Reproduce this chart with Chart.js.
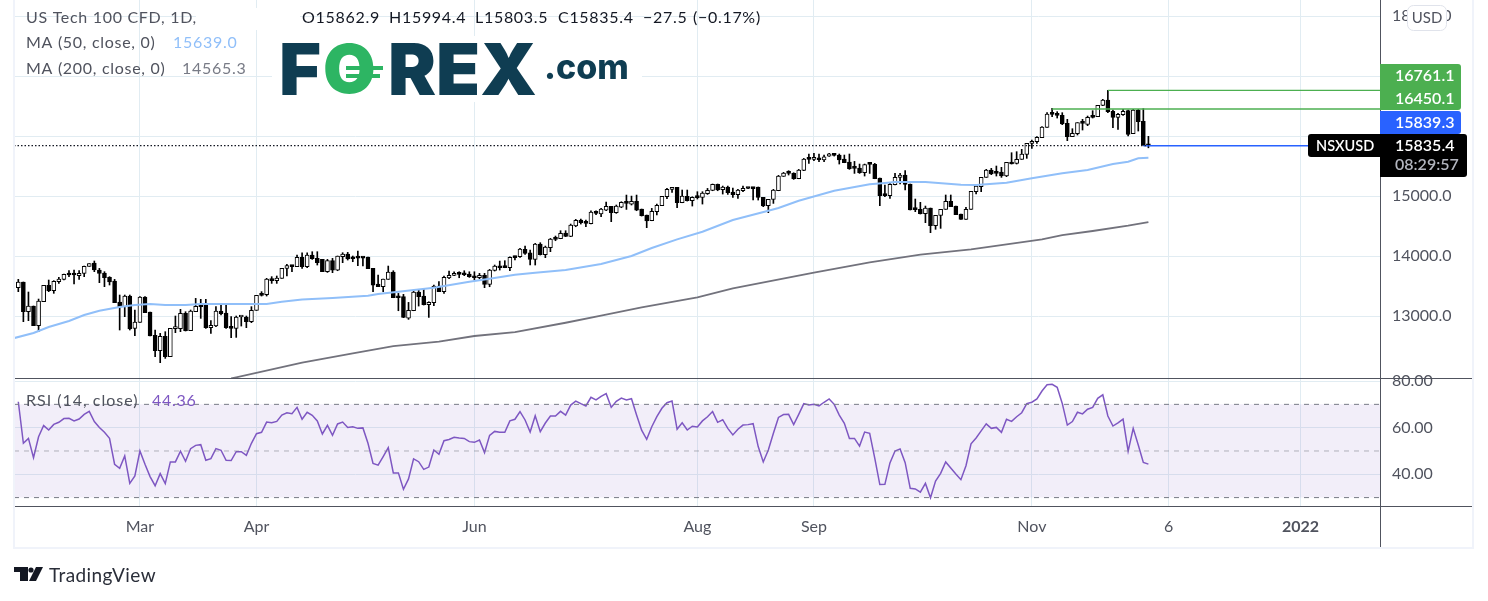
<!DOCTYPE html>
<html>
<head>
<meta charset="utf-8">
<title>US Tech 100 CFD</title>
<script src="https://cdn.jsdelivr.net/npm/chart.js@4"></script>
<style>
  html, body { margin: 0; padding: 0; background: #fff; }
  canvas { display: block; }
</style>
</head>
<body>
<canvas id="chart" width="1488" height="601"></canvas>
<script>
const barOpens = [
  13472,13567,13072,13167,12839,13239,13511,13422,13572,13611,
  13717,13717,13672,13711,13828,13883,13767,13717,13644,13583,
  13233,13156,13333,12794,12894,13317,13067,12678,12422,12661,
  12322,12789,12789,13044,12756,13072,13178,13183,12806,12833,
  13083,13050,12817,12794,12983,12983,12906,13094,13367,13356,
  13617,13589,13628,13794,13844,13822,13978,13822,14016,13961,
  13944,13739,13922,13766,13989,14033,13983,13978,13978,13983,
  13794,13533,13488,13611,13733,13333,13322,12966,13088,13400,
  13333,13188,13222,13500,13405,13633,13677,13711,13700,13700,
  13661,13638,13677,13527,13761,13833,13810,13805,13988,13988,
  14111,14055,13944,14200,14022,14138,14294,14288,14383,14327,
  14500,14600,14561,14538,14744,14700,14766,14827,14722,14816,
  14894,14866,14911,14783,14683,14588,14738,14838,14988,15111,
  15144,14888,14994,14922,14977,14977,15038,15094,15194,15105,
  15150,15066,15022,15088,15127,15144,15150,14977,14838,14944,
  15088,15327,15383,15377,15288,15427,15616,15611,15616,15600,
  15666,15711,15683,15616,15566,15466,15466,15388,15533,15527,
  15300,15011,15006,15189,15311,15350,15200,14778,14778,14706,
  14800,14506,14678,14778,14911,14833,14700,14611,14778,15072,
  15156,15311,15433,15400,15400,15333,15561,15544,15611,15695,
  15878,15906,15972,16145,16367,16367,16345,16211,15989,16039,
  16228,16195,16322,16322,16511,16600,16411,16311,16356,16422,
  16039,16433,16245,15862.9
];
const barCloses = [
  13567,13072,13167,12839,13250,13511,13422,13578,13617,13694,
  13683,13683,13711,13828,13872,13767,13711,13639,13567,13222,
  13156,13333,12783,12900,13317,13056,12667,12422,12661,12322,
  12794,12800,13044,12756,13083,13161,13156,12806,12844,13083,
  13039,12806,12794,12983,12989,12906,13094,13344,13344,13617,
  13589,13633,13794,13839,13822,13978,13822,14016,13955,13889,
  13739,13922,13766,14000,14033,13950,13955,13966,13966,13788,
  13516,13488,13616,13733,13305,13305,12977,13094,13400,13322,
  13188,13227,13500,13405,13644,13677,13711,13694,13688,13655,
  13638,13677,13527,13766,13833,13805,13806,13977,13972,14116,
  14044,13944,14200,14022,14150,14283,14277,14377,14327,14516,
  14594,14555,14544,14733,14711,14783,14827,14722,14833,14894,
  14877,14911,14766,14672,14583,14744,14844,14994,15111,15144,
  14888,15000,14922,14977,14972,15050,15094,15194,15100,15150,
  15055,15022,15100,15127,15125,15122,14977,14833,14944,15100,
  15333,15383,15377,15288,15433,15616,15611,15622,15605,15655,
  15705,15677,15600,15555,15455,15461,15388,15522,15527,15288,
  15006,15006,15194,15311,15350,15194,14767,14772,14706,14800,
  14506,14678,14778,14911,14822,14689,14611,14778,15078,15167,
  15311,15433,15367,15378,15333,15561,15533,15611,15700,15878,
  15911,15978,16150,16367,16362,16345,16200,15989,16045,16222,
  16211,16311,16311,16511,16600,16406,16311,16361,16411,16028,
  16433,16239,15850,15835.4
];
const barHighs = [
  13611,13567,13400,13167,13283,13511,13600,13589,13644,13700,
  13756,13767,13756,13833,13872,13917,13794,13739,13656,13611,
  13350,13350,13350,13100,13322,13322,13067,12767,12711,12739,
  12794,13000,13111,13072,13100,13294,13278,13278,12922,13156,
  13183,13183,12989,13000,13000,13000,13156,13344,13406,13628,
  13656,13667,13794,13861,13844,14017,14055,14055,14072,14072,
  13944,13944,13961,14000,14055,14061,14000,14083,13978,13983,
  13794,13683,13616,13833,13755,13377,13361,13227,13433,13444,
  13444,13238,13516,13572,13666,13750,13738,13738,13755,13738,
  13738,13711,13711,13777,13850,13916,13922,13988,14000,14127,
  14166,14100,14211,14222,14166,14294,14333,14422,14422,14533,
  14611,14616,14600,14755,14755,14794,14900,14827,14850,14905,
  15016,14999,15016,14783,14683,14794,14866,14994,15127,15144,
  15144,15100,15100,14988,15072,15072,15127,15200,15200,15166,
  15166,15133,15111,15166,15133,15144,15150,14977,14944,15111,
  15344,15394,15422,15388,15444,15627,15700,15711,15700,15683,
  15711,15711,15700,15683,15700,15577,15533,15533,15544,15544,
  15300,15183,15211,15378,15378,15422,15200,14950,14895,14833,
  14800,14678,14778,15017,15017,14833,14700,14811,15078,15167,
  15311,15445,15461,15500,15478,15561,15722,15739,15778,15878,
  15933,15989,16156,16389,16461,16406,16389,16278,16122,16222,
  16278,16333,16422,16511,16611,16761.1,16433,16378,16445,16433,
  16445,16445,16456,15994.4
];
const barLows = [
  13406,12906,12922,12839,12739,13239,13406,13378,13544,13600,
  13656,13533,13611,13656,13828,13739,13556,13489,13517,13222,
  12767,12989,12767,12672,12894,13056,12667,12322,12222,12294,
  12322,12722,12739,12750,12756,13072,12961,12794,12711,12822,
  13017,12794,12639,12644,12833,12806,12889,13094,13333,13333,
  13544,13544,13628,13667,13739,13822,13794,13805,13944,13850,
  13739,13727,13722,13755,13889,13933,13905,13838,13833,13788,
  13405,13488,13405,13611,13305,13088,12972,12944,13088,13166,
  13183,12977,13172,13405,13377,13622,13672,13638,13672,13644,
  13600,13622,13472,13488,13750,13766,13805,13755,13933,13977,
  14027,13850,13850,14016,13972,14072,14255,14288,14322,14322,
  14488,14533,14488,14533,14688,14655,14755,14572,14711,14805,
  14777,14850,14755,14666,14472,14588,14683,14838,14955,15061,
  14805,14888,14916,14833,14950,14866,15027,15088,15088,15033,
  15027,14977,14961,15072,15122,14933,14933,14822,14722,14877,
  15088,15327,15350,15277,15288,15422,15544,15588,15572,15572,
  15661,15666,15533,15555,15444,15377,15377,15333,15377,15288,
  14839,14989,14961,15183,15200,15100,14767,14739,14700,14556,
  14389,14445,14461,14778,14822,14689,14611,14611,14778,15033,
  15072,15311,15356,15333,15311,15322,15533,15533,15611,15628,
  15795,15878,15972,16145,16322,16300,16189,15922,15989,16017,
  16100,16172,16300,16322,16506,16389,16139,16111,16345,16000,
  16039,16083,15839,15803.5
];

const ma50Bars = [-1,3,6,10,13,16,20,23,26,29,33,36,39,46,49,52,56,62,69,71,75,82,89,93,98,102,108,115,121,125,130,135,141,148,150,154,161,168,171,173,179,186,189,195,200,206,211,216,219,221,223];
const ma50Values = [12628,12717,12817,12917,13017,13088,13150,13183,13200,13183,13183,13200,13200,13200,13200,13238,13275,13300,13338,13367,13405,13472,13572,13622,13688,13722,13767,13867,14000,14133,14278,14405,14600,14755,14800,14922,15088,15195,15217,15233,15233,15188,15183,15222,15295,15378,15433,15533,15572,15628,15639];

const ma200Bars = [42,43,56,66,74,83,90,98,108,115,123,134,141,157,168,178,188,202,206,212,219,223];
const ma200Values = [11960,11978,12222,12378,12500,12572,12667,12733,12888,13005,13145,13312,13462,13722,13895,14022,14112,14278,14350,14417,14505,14565.3];

const rsiValues = [
  71.1,53.3,55.4,47.1,56.1,60.9,59.0,61.4,62.3,63.9,
  64.0,62.9,63.7,65.7,67.0,62.6,60.1,58.0,55.4,44.3,
  42.6,47.9,36.1,39.3,50.0,44.3,39.0,35.1,40.3,36.0,
  45.3,45.3,49.9,45.6,51.0,52.4,52.7,46.0,46.7,51.0,
  50.3,46.0,45.9,49.7,49.7,48.1,53.3,57.4,58.0,62.4,
  62.1,62.7,65.4,66.4,66.0,68.7,63.6,66.6,65.3,62.9,
  57.3,61.0,56.7,61.6,62.4,60.1,60.4,59.7,59.9,53.3,
  44.7,43.9,47.6,51.4,40.6,40.6,33.6,38.0,46.6,45.4,
  42.1,43.1,50.4,48.6,54.4,54.9,55.9,55.6,55.4,54.0,
  53.7,54.7,49.3,56.7,58.4,58.0,58.0,62.9,63.6,66.9,
  63.3,58.1,65.1,58.3,62.0,65.0,65.0,67.0,65.4,69.7,
  71.4,70.3,69.3,73.0,71.9,73.4,74.6,68.7,71.3,72.7,
  71.9,72.4,65.4,58.9,55.0,60.4,64.7,68.3,70.7,71.4,
  59.3,62.1,59.0,60.6,60.3,62.9,64.7,66.9,62.3,63.4,
  59.7,56.9,59.3,61.1,61.3,61.7,51.9,45.3,50.4,57.6,
  64.4,65.6,65.7,61.3,65.7,70.3,69.7,70.0,69.3,70.9,
  72.3,70.0,65.4,61.9,55.4,55.4,52.1,58.1,57.6,46.9,
  35.6,35.7,44.9,50.0,50.9,45.0,34.0,33.7,32.3,36.1,
  29.9,37.1,40.4,45.3,42.7,40.1,37.7,43.7,53.1,55.6,
  58.6,61.6,59.7,60.1,58.0,63.6,62.7,64.7,66.4,70.3,
  70.9,72.3,75.7,78.4,78.6,77.3,70.4,61.1,62.6,66.6,
  65.9,67.9,68.7,72.6,74.1,65.0,60.7,62.1,63.7,49.9,
  59.7,52.6,45.1,44.36
];

const priceTicks = [13000,14000,15000,16000,17000,18000];
const rsiTicks = [40,60,80];
const timeBars = [24,47,90,134,157,200,227,253];
const timeLabels = ['Mar','Apr','Jun','Aug','Sep','Nov','6','2022'];

const lastHigh = 16761.1, prevHigh = 16450.1, bidPrice = 15839.3;
const rsiBandTop = 70, rsiMid = 50, rsiBandBottom = 30;

// window of the panes, in bars and in price / RSI units
const xMin = -0.85, xMax = 268.7;
const priceMin = 11967, priceMax = 18267;
const rsiMin = 26.4, rsiMax = 81.3;

const FONT = 'Lato, "Open Sans", sans-serif';
const GRID = '#e1ecf2';
const AXIS_TEXT = '#50535e';
const PANE_LINE = '#50535e';
const FRAME = '#f0f3fa';

function hline(y, from, to, color, width, dash, axis) {
    return {
        type: 'line',
        xAxisID: 'x',
        yAxisID: axis || 'y',
        data: [{x: from, y: y}, {x: to, y: y}],
        borderColor: color,
        borderWidth: width,
        borderDash: dash || [],
        pointRadius: 0,
        fill: false,
        order: 1
    };
}

function series(bars, values, color, width, axis) {
    return {
        type: 'line',
        xAxisID: 'x',
        yAxisID: axis || 'y',
        data: bars.map((b, i) => ({x: b, y: values[i]})),
        borderColor: color,
        borderWidth: width,
        pointRadius: 0,
        tension: 0,
        fill: false,
        order: 1
    };
}

const allBars = barOpens.map((o, i) => i);

const rsiBand = hline(rsiBandTop, xMin, xMax, 'rgba(0,0,0,0)', 0, [], 'rsi');
rsiBand.fill = {value: rsiBandBottom};
rsiBand.backgroundColor = 'rgba(126,87,194,0.1)';
rsiBand.order = 9;

const datasets = [
    rsiBand,
    hline(rsiBandTop, xMin, xMax, '#787b86', 1, [5, 5], 'rsi'),
    hline(rsiMid, xMin, xMax, 'rgba(120,123,134,0.55)', 1, [5, 5], 'rsi'),
    hline(rsiBandBottom, xMin, xMax, '#787b86', 1, [5, 5], 'rsi'),
    series(allBars, rsiValues, '#7e57c2', 1.5, 'rsi'),
    // wicks go first, the bodies sit on top of them
    {
        type: 'bar',
        xAxisID: 'x',
        yAxisID: 'y',
        data: allBars.map(i => ({x: i, y: [barLows[i], barHighs[i]]})),
        backgroundColor: '#000',
        barThickness: 1,
        grouped: false,
        order: 5
    },
    {
        type: 'bar',
        xAxisID: 'x',
        yAxisID: 'y',
        data: allBars.map(i => ({x: i, y: [barOpens[i], barCloses[i]]})),
        backgroundColor: allBars.map(i => barCloses[i] >= barOpens[i] ? '#fff' : '#000'),
        borderColor: '#000',
        borderWidth: 1,
        borderSkipped: false,
        barThickness: 4,
        minBarLength: 2,
        grouped: false,
        order: 4
    },
    series(ma50Bars, ma50Values, '#90bff9', 2),
    series(ma200Bars, ma200Values, '#72727c', 1.8),
    hline(lastHigh, 215, xMax, '#4caf50', 1.4),
    hline(prevHigh, 204, xMax, '#4caf50', 1.4),
    hline(bidPrice, xMin, 223, '#131722', 1.4, [1.5, 2]),
    hline(bidPrice, 222, xMax, '#2962ff', 1.5)
];

function text(ctx, str, x, y, color, font, align, spacing) {
    ctx.fillStyle = color;
    ctx.font = font;
    ctx.textAlign = align || 'left';
    ctx.textBaseline = 'middle';
    ctx.letterSpacing = spacing || '0px';
    ctx.fillText(str, x, y);
}

function box(ctx, x, y, w, h, color, r) {
    ctx.fillStyle = color;
    ctx.beginPath();
    ctx.roundRect(x, y, w, h, r || 0);
    ctx.fill();
}

// the axis measures its own tick labels and would pull the pane in otherwise
function noLabelPadding(scale) {
    scale.paddingTop = 0;
    scale.paddingBottom = 0;
    scale.paddingLeft = 0;
    scale.paddingRight = 0;
}

const overlay = {
    id: 'overlay',
    afterDraw(chart) {
        const ctx = chart.ctx;
        ctx.save();

        // frame and pane separators
        ctx.fillStyle = FRAME;
        ctx.fillRect(13, 0, 2, 549);
        ctx.fillRect(13, 547, 1461, 2);
        ctx.fillRect(1472, 0, 2, 549);
        ctx.fillStyle = PANE_LINE;
        ctx.fillRect(1380, 0, 1, 547);
        ctx.fillRect(15, 378, 1457, 1);
        ctx.fillRect(15, 506, 1457, 1);

        // header
        ctx.fillStyle = '#fff';
        ctx.fillRect(196, 8, 104, 22);
        const legendFont = '16px ' + FONT;
        const ls = '0.7px';
        text(ctx, 'US Tech 100 CFD, 1D,', 26, 18, AXIS_TEXT, legendFont, 'left', ls);
        text(ctx, 'O15862.9', 302, 18, '#131722', legendFont, 'left', ls);
        text(ctx, 'H15994.4', 389, 18, '#131722', legendFont, 'left', ls);
        text(ctx, 'L15803.5', 475, 18, '#131722', legendFont, 'left', ls);
        text(ctx, 'C15835.4', 558, 18, '#131722', legendFont, 'left', ls);
        text(ctx, '\u221227.5', 643, 18, '#131722', legendFont, 'left', ls);
        text(ctx, '(\u22120.17%)', 693, 18, '#131722', legendFont, 'left', ls);
        text(ctx, 'MA (50, close, 0)', 26, 43, AXIS_TEXT, legendFont, 'left', ls);
        text(ctx, '15639.0', 173, 43, '#90bff9', legendFont, 'left', ls);
        text(ctx, 'MA (200, close, 0)', 26, 69, AXIS_TEXT, legendFont, 'left', ls);
        text(ctx, '14565.3', 182, 69, '#787b86', legendFont, 'left', ls);
        text(ctx, 'RSI (14, close)', 26, 401, AXIS_TEXT, legendFont, 'left', '1px');
        text(ctx, '44.36', 152, 401, '#7e57c2', legendFont, 'left', ls);

        // broker logo
        ctx.fillStyle = '#fff';
        ctx.fillRect(272, 36, 370, 66);
        const logoFont = '900 72px Inter, "Liberation Sans", sans-serif';
        text(ctx, 'F', 279, 73, '#0f3d52', logoFont);
        text(ctx, 'O', 323, 73, '#2db563', '900 68px Inter, "Liberation Sans", sans-serif');
        ctx.fillStyle = '#2db563';
        ctx.fillRect(346, 66, 37, 4);
        ctx.fillRect(346, 74, 34, 4);
        text(ctx, 'REX', 388, 73, '#0f3d52', logoFont);
        text(ctx, '.com', 544, 69, '#0f3d52', '800 34px Inter, "Liberation Sans", sans-serif');

        // price labels on the right axis
        const labelFont = '600 16px ' + FONT;
        box(ctx, 1407, 5, 40, 26, '#fff', 6);
        ctx.strokeStyle = '#e0e3eb';
        ctx.lineWidth = 1;
        ctx.beginPath();
        ctx.roundRect(1407.5, 5.5, 39, 25, 6);
        ctx.stroke();
        text(ctx, 'USD', 1427, 18, AXIS_TEXT, '15px ' + FONT, 'center');
        box(ctx, 1380, 64, 81, 46, '#4caf50', [0, 3, 3, 0]);
        text(ctx, '16761.1', 1395, 76, '#fff', labelFont);
        text(ctx, '16450.1', 1395, 99, '#fff', labelFont);
        box(ctx, 1380, 111, 81, 23, '#2962ff', [0, 3, 3, 0]);
        text(ctx, '15839.3', 1395, 123, '#fff', labelFont);
        box(ctx, 1308, 134, 72, 23, '#000', [3, 0, 0, 3]);
        box(ctx, 1380, 134, 87, 43, '#000', [0, 3, 3, 0]);
        text(ctx, 'NSXUSD', 1316, 146, '#fff', '600 14.5px ' + FONT);
        text(ctx, '15835.4', 1395, 146, '#fff', labelFont);
        text(ctx, '08:29:57', 1395, 165, '#b2b5be', labelFont);

        // footer mark
        ctx.fillStyle = '#131722';
        ctx.fillRect(14, 567, 14, 5);
        ctx.fillRect(20, 567, 8, 14);
        ctx.beginPath();
        ctx.arc(31, 570, 2.6, 0, Math.PI * 2);
        ctx.fill();
        ctx.beginPath();
        ctx.moveTo(36, 567);
        ctx.lineTo(43, 567);
        ctx.lineTo(36, 581);
        ctx.lineTo(29, 581);
        ctx.closePath();
        ctx.fill();
        text(ctx, 'TradingView', 49, 576, '#2a2e39', '19px ' + FONT, 'left', '0.4px');

        ctx.restore();
    }
};

new Chart(document.getElementById('chart').getContext('2d'), {
    data: {datasets: datasets},
    plugins: [overlay],
    options: {
        responsive: false,
        animation: false,
        devicePixelRatio: 1,
        layout: {padding: {left: 14, right: 15, top: 0, bottom: 54}},
        plugins: {legend: {display: false}, tooltip: {enabled: false}},
        scales: {
            x: {
                type: 'linear',
                position: 'bottom',
                offset: false,
                min: xMin,
                max: xMax,
                grid: {color: GRID, drawTicks: false, offset: false},
                border: {display: false},
                afterBuildTicks: s => { s.ticks = timeBars.map(v => ({value: v})); },
                afterFit: s => { s.height = 41; noLabelPadding(s); },
                ticks: {
                    autoSkip: false,
                    maxRotation: 0,
                    padding: 11,
                    color: AXIS_TEXT,
                    font: c => ({family: FONT, size: 16, weight: c.index === 7 ? '700' : '400'}),
                    callback: (v, i) => timeLabels[i]
                }
            },
            y: {
                type: 'linear',
                position: 'right',
                stack: 'panes',
                stackWeight: 378,
                min: priceMin,
                max: priceMax,
                grid: {color: GRID, drawTicks: false},
                border: {display: false},
                afterBuildTicks: s => { s.ticks = priceTicks.map(v => ({value: v})); },
                afterFit: s => { s.width = 93; noLabelPadding(s); },
                ticks: {
                    padding: 12,
                    color: AXIS_TEXT,
                    font: {family: FONT, size: 16},
                    callback: v => v.toFixed(1)
                }
            },
            rsi: {
                type: 'linear',
                position: 'right',
                stack: 'panes',
                stackWeight: 128,
                min: rsiMin,
                max: rsiMax,
                grid: {color: GRID, drawTicks: false},
                border: {display: false},
                afterBuildTicks: s => { s.ticks = rsiTicks.map(v => ({value: v})); },
                afterFit: s => { s.width = 93; noLabelPadding(s); },
                ticks: {
                    padding: 12,
                    color: AXIS_TEXT,
                    font: {family: FONT, size: 16},
                    callback: v => v.toFixed(2)
                }
            }
        }
    }
});
</script>
</body>
</html>
